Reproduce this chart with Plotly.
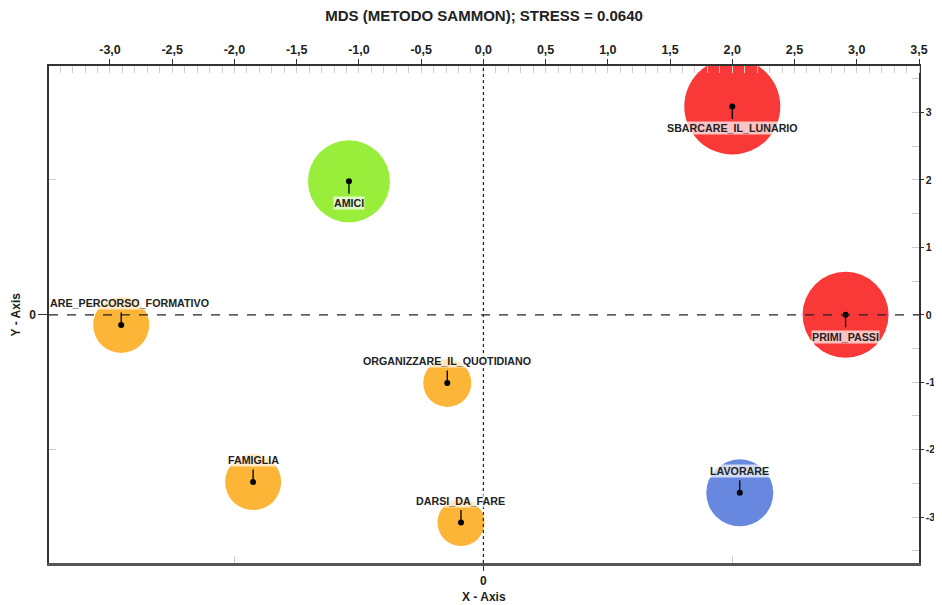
import plotly.graph_objects as go

# ---- data ----
labels = ["SBARCARE_IL_LUNARIO", "AMICI", "ARE_PERCORSO_FORMATIVO", "PRIMI_PASSI",
          "ORGANIZZARE_IL_QUOTIDIANO", "FAMIGLIA", "DARSI_DA_FARE", "LAVORARE"]
x_vals = [2.00, -1.08, -2.91, 2.91, -0.29, -1.85, -0.18, 2.06]
y_vals = [3.09, 1.98, -0.15, 0.00, -1.01, -2.48, -3.08, -2.64]
bubble = [96, 82, 56, 86, 48, 56, 47, 67]
groups = ["red", "green", "orange", "red", "orange", "orange", "orange", "blue"]

top_ticks = [-3.0, -2.5, -2.0, -1.5, -1.0, -0.5, 0.0, 0.5, 1.0, 1.5, 2.0, 2.5, 3.0, 3.5]
top_ticktext = [f"{v:.1f}".replace(".", ",") for v in top_ticks]
right_ticks = [-3, -2, -1, 0, 1, 2, 3]

# ---- styles ----
palette = {"red": "#F93838", "green": "#98EE3A", "orange": "#FDB538", "blue": "#6888E0"}
label_side = [-1, -1, 1, -1, 1, 1, 1, 1]   # 1 = above, -1 = below
XR = [-3.49, 3.50]
YR = [-3.68, 3.69]
FONT = "Liberation Sans, Arial, sans-serif"
# page body has an 8px default margin; size the figure so it fills the window
W, H = 934, 597

fig = go.Figure()

fig.add_trace(go.Scatter(
    x=x_vals, y=y_vals, mode="markers",
    marker=dict(size=bubble, color=[palette[g] for g in groups], opacity=1, line=dict(width=0)),
    hoverinfo="skip", showlegend=False, cliponaxis=True))

fig.add_trace(go.Scatter(
    x=x_vals, y=y_vals, mode="markers",
    marker=dict(size=6, color="black", opacity=1), showlegend=False, cliponaxis=True))

# invisible trace to activate secondary axes
fig.add_trace(go.Scatter(x=x_vals, y=y_vals, mode="markers", xaxis="x2", yaxis="y2",
                         marker=dict(size=1, opacity=0), showlegend=False, hoverinfo="skip"))

label_font = dict(family=FONT, size=10.7, color="#222")
annotations = []
for lab, xv, yv, side in zip(labels, x_vals, y_vals, label_side):
    # connector line
    annotations.append(dict(x=xv, y=yv, xref="x", yref="y", text="", showarrow=True,
                            arrowhead=0, arrowwidth=1.3, arrowcolor="black",
                            ax=0, ay=-14 * side, standoff=0))
    if lab.startswith("ARE_"):
        annotations.append(dict(x=XR[0], y=yv, xref="x", yref="y", text=f"<b>{lab}</b>",
                                showarrow=False, xanchor="left", yshift=22 * side,
                                font=label_font, bgcolor="rgba(255,255,255,0.7)", borderpad=0))
    else:
        annotations.append(dict(x=xv, y=yv, xref="x", yref="y", text=f"<b>{lab}</b>",
                                showarrow=False, yshift=22 * side,
                                font=label_font, bgcolor="rgba(255,255,255,0.7)", borderpad=0))

annotations.append(dict(x=0.5, y=-0.068, xref="paper", yref="paper", text="<b>X - Axis</b>",
                        showarrow=False, font=dict(family=FONT, size=12, color="#222"),
                        yanchor="middle"))
annotations.append(dict(x=-0.038, y=0.5, xref="paper", yref="paper", text="<b>Y - Axis</b>",
                        showarrow=False, textangle=-90, font=dict(family=FONT, size=12, color="#222"),
                        xanchor="center"))

shapes = [
    dict(type="line", xref="x", yref="y", x0=XR[0], x1=XR[1], y0=0, y1=0,
         line=dict(color="#222", width=1.2, dash="dash"), layer="above"),
    dict(type="line", xref="x", yref="y", x0=0, x1=0, y0=YR[0], y1=YR[1],
         line=dict(color="#222", width=1.2, dash="dot"), layer="above"),
]

fig.update_layout(
    width=W, height=H,
    margin=dict(l=41, r=23, t=58, b=42, autoexpand=False),
    paper_bgcolor="white", plot_bgcolor="white",
    title=dict(text="<b>MDS (METODO SAMMON); STRESS = 0.0640</b>", x=(484 - 8) / W,
               xanchor="center", y=1 - 8 / H, yanchor="middle",
               font=dict(family=FONT, size=15, color="#222")),
    xaxis=dict(range=XR, automargin=False, showgrid=False, zeroline=False, showline=True,
               linecolor="#555", linewidth=2.5, tickvals=[0], ticktext=["<b>0</b>"],
               ticks="outside", ticklen=5, tickcolor="#333",
               tickfont=dict(family=FONT, size=12, color="#222"),
               minor=dict(tickvals=[-2, 2], ticks="inside", ticklen=7, tickcolor="#ccc")),
    xaxis2=dict(range=XR, automargin=False, overlaying="x", side="top", showgrid=False,
                zeroline=False, showline=True, linecolor="#333", linewidth=1.5,
                tickvals=top_ticks, ticktext=[f"<b>{t}</b>" for t in top_ticktext],
                ticks="outside", ticklen=5, tickcolor="#333",
                tickfont=dict(family=FONT, size=12.5, color="#222"),
                minor=dict(dtick=0.1, tick0=0, ticks="inside", ticklen=7, tickcolor="#ccc")),
    yaxis=dict(range=YR, automargin=False, showgrid=False, zeroline=False, showline=True,
               linecolor="#333", linewidth=1.5, tickvals=[0], ticktext=["<b>0</b>"],
               ticks="outside", ticklen=9, tickcolor="#333",
               tickfont=dict(family=FONT, size=12, color="#222"),
               minor=dict(tickvals=[-2, 2], ticks="inside", ticklen=7, tickcolor="#ccc")),
    yaxis2=dict(range=YR, automargin=False, overlaying="y", side="right", showgrid=False,
                zeroline=False, showline=True, linecolor="#333", linewidth=1.5,
                tickvals=right_ticks, ticktext=[f"<b>{t}</b>" for t in right_ticks],
                ticks="outside", ticklen=3, tickcolor="#333",
                tickfont=dict(family=FONT, size=10.5, color="#222"),
                minor=dict(dtick=0.5, tick0=0, ticks="inside", ticklen=7, tickcolor="#ccc")),
    annotations=annotations,
    shapes=shapes,
    showlegend=False,
)

fig.write_html("out.html")
